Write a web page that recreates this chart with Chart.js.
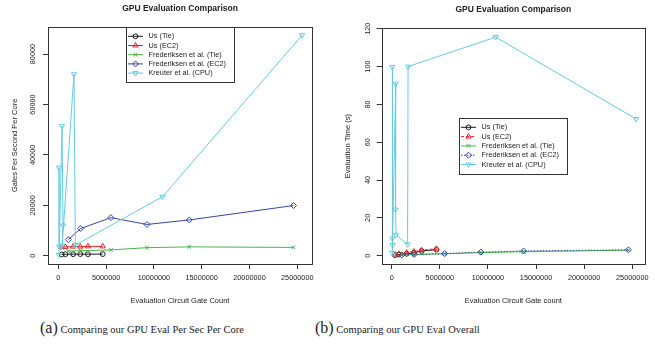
<!DOCTYPE html>
<html>
<head>
<meta charset="utf-8">
<script src="https://cdn.jsdelivr.net/npm/chart.js@4.4.1/dist/chart.umd.min.js"></script>
<style>
  body { margin: 0; background: #fff; }
  #wrap { position: relative; width: 655px; height: 348px; overflow: hidden; }
  .panel { position: absolute; top: 0; }
  .cap { position: absolute; top: 319px; font-family: "Liberation Serif", "Times New Roman", serif; font-size: 10.5px; color: #222; white-space: nowrap; }
  .cap span { font-size: 16px; }
</style>
</head>
<body>
<div id="wrap">
  <canvas id="rateChart" class="panel" style="left:0" width="330" height="305"></canvas>
  <canvas id="timeChart" class="panel" style="left:330px" width="325" height="305"></canvas>
  <div class="cap" style="left:40px"><span>(a)</span> Comparing our GPU Eval Per Sec Per Core</div>
  <div class="cap" style="left:315px"><span>(b)</span> Comparing our GPU Eval Overall</div>
</div>
<script>
// circuit sizes (gate counts)
const usGates = [350000, 750000, 1550000, 2300000, 3100000, 4650000];
const fredGates = [1050000, 2340000, 5500000, 9270000, 13700000, 24600000];
const kreuterRateGates = [50000, 70000, 100000, 390000, 490000, 400000, 1640000, 1780000, 10900000, 25500000];
const kreuterTimeGates = [40000, 60000, 70000, 100000, 420000, 400000, 450000, 1650000, 1700000, 10800000, 25400000];

// (a) gates per second per core
const usTieRate = [500, 600, 600, 650, 600, 650];
const usEc2Rate = [3300, 3500, 3600, 3600, 3700, 3700];
const fredTieRate = [1800, 2000, 2300, 3200, 3500, 3300];
const fredEc2Rate = [6400, 10800, 15100, 12400, 14200, 19900];
const kreuterRate = [300, 35000, 3600, 51500, 12000, 4000, 72000, 4200, 23400, 87500];

// (b) evaluation time in seconds
const usTieTime = [0.3, 0.6, 1.0, 1.5, 2.5, 3.2];
const usEc2Time = [0.6, 1.0, 1.6, 2.2, 2.9, 3.7];
const fredTieTime = [0.3, 0.6, 1.0, 1.6, 2.1, 2.9];
const fredEc2Time = [0.4, 0.7, 1.1, 1.9, 2.5, 3.1];
const kreuterTime = [1.5, 99.8, 9.1, 5.6, 91, 24.4, 10.9, 6, 100, 115.6, 72.3];

// axis ticks
const gateTicks = [0, 5000000, 10000000, 15000000, 20000000, 25000000];
const rateTicks = [0, 20000, 40000, 60000, 80000];
const timeTicks = [0, 20, 40, 60, 80, 100, 120];

const seriesNames = ["Us (Tie)", "Us (EC2)", "Frederiksen et al. (Tie)", "Frederiksen et al. (EC2)", "Kreuter et al. (CPU)"];
const seriesColors = ["#1a1a1a", "#e8242c", "#45b649", "#3446a0", "#67cbdf"];
const seriesMarkers = [
  { style: "circle", rot: 0, r: 2.4 },
  { style: "triangle", rot: 0, r: 3 },
  { style: "crossRot", rot: 0, r: 2.6 },
  { style: "rectRot", rot: 0, r: 3 },
  { style: "triangle", rot: 180, r: 3 }
];

const sans = "'Liberation Sans', Arial, Helvetica, sans-serif";
const ink = "#222";
const axisInk = "#333";

function pts(xs, ys) {
  return xs.map((x, i) => ({ x: x, y: ys[i] }));
}

function buildDatasets(series, dashes) {
  return series.map((data, i) => ({
    label: seriesNames[i],
    data: data,
    showLine: true,
    borderColor: seriesColors[i],
    backgroundColor: "rgba(0,0,0,0)",
    borderWidth: 1,
    borderDash: dashes[i],
    pointStyle: seriesMarkers[i].style,
    pointRotation: seriesMarkers[i].rot,
    pointRadius: seriesMarkers[i].r,
    pointBorderWidth: 1,
    pointBorderColor: seriesColors[i],
    pointBackgroundColor: "rgba(0,0,0,0)",
    order: 5 - i
  }));
}

// R style box around the plot region
const plotBox = {
  id: "plotBox",
  afterDatasetsDraw(chart) {
    const a = chart.chartArea, ctx = chart.ctx;
    ctx.save();
    ctx.strokeStyle = axisInk;
    ctx.lineWidth = 1;
    ctx.strokeRect(Math.round(a.left) + 0.5, Math.round(a.top) + 0.5, Math.round(a.right - a.left), Math.round(a.bottom - a.top));
    ctx.restore();
  }
};

// legend drawn inside the plot like R's legend()
const boxLegend = {
  id: "boxLegend",
  afterDraw(chart, args, opts) {
    const a = chart.chartArea, ctx = chart.ctx;
    const w = opts.width, h = opts.height;
    const left = Math.round((a.left + a.right) / 2 - w / 2);
    const top = Math.round(opts.place === "top" ? a.top : (a.top + a.bottom) / 2 - h / 2);
    ctx.save();
    ctx.fillStyle = "#fff";
    ctx.fillRect(left, top, w, h);
    ctx.strokeStyle = axisInk;
    ctx.lineWidth = 1;
    ctx.strokeRect(left + 0.5, top + 0.5, w, h);
    ctx.font = "7.3px " + sans;
    ctx.textBaseline = "middle";
    chart.data.datasets.forEach((ds, i) => {
      const y = top + opts.firstRow + i * opts.rowGap;
      ctx.strokeStyle = ds.borderColor;
      ctx.setLineDash(ds.borderDash || []);
      ctx.beginPath();
      ctx.moveTo(left + 2, y);
      ctx.lineTo(left + 17, y);
      ctx.stroke();
      ctx.setLineDash([]);
      ctx.fillStyle = "rgba(0,0,0,0)";
      Chart.helpers.drawPoint(ctx, { pointStyle: ds.pointStyle, radius: ds.pointRadius, rotation: ds.pointRotation, borderWidth: 1 }, left + 9.5, y);
      ctx.fillStyle = ink;
      ctx.fillText(ds.label, left + 22.5, y);
    });
    ctx.restore();
  }
};

function makeChart(id, cfg) {
  return new Chart(document.getElementById(id), {
    type: "scatter",
    data: { datasets: buildDatasets(cfg.series, cfg.dashes) },
    plugins: [plotBox, boxLegend],
    options: {
      responsive: false,
      animation: false,
      devicePixelRatio: 1,
      layout: { padding: { left: 0, right: cfg.rightPad, top: 0, bottom: 0 } },
      scales: {
        x: {
          type: "linear",
          min: cfg.xMin,
          max: cfg.xMax,
          afterBuildTicks: s => { s.ticks = gateTicks.map(v => ({ value: v })); },
          afterFit: s => { s.height = 41; },
          grid: { drawOnChartArea: false, drawTicks: true, tickLength: 5, color: axisInk },
          border: { display: false },
          ticks: { font: { family: sans, size: 7.3 }, color: ink, padding: 4.3, maxRotation: 0, autoSkip: false, callback: v => String(v) },
          title: { display: true, text: cfg.xTitle, font: { family: sans, size: 7.5 }, color: ink, padding: { top: 4.5, bottom: 0 } }
        },
        y: {
          type: "linear",
          min: cfg.yMin,
          max: cfg.yMax,
          afterBuildTicks: s => { s.ticks = cfg.yTicks.map(v => ({ value: v })); },
          afterFit: s => { s.width = cfg.yWidth; },
          grid: { drawOnChartArea: false, drawTicks: true, tickLength: 5, color: axisInk },
          border: { display: false },
          ticks: { font: { family: sans, size: 7.3 }, color: ink, padding: cfg.yTickPad, minRotation: 90, maxRotation: 90, crossAlign: "center", autoSkip: false, callback: v => String(v) },
          title: { display: true, text: cfg.yTitle, font: { family: sans, size: 7.5 }, color: ink, padding: { top: cfg.yTitlePad, bottom: 0 } }
        }
      },
      plugins: {
        legend: { display: false },
        tooltip: { enabled: false },
        title: {
          display: true,
          fullSize: false,
          text: "GPU Evaluation Comparison",
          font: { family: sans, size: 8.5, weight: "bold" },
          color: ink,
          padding: { top: cfg.titleTop, bottom: cfg.titleBottom }
        },
        boxLegend: cfg.legend
      }
    }
  });
}

makeChart("rateChart", {
  series: [pts(usGates, usTieRate), pts(usGates, usEc2Rate), pts(fredGates, fredTieRate), pts(fredGates, fredEc2Rate), pts(kreuterRateGates, kreuterRate)],
  dashes: [[], [], [], [], []],
  xMin: -1080000, xMax: 26540000,
  yMin: -3290, yMax: 90870, yTicks: rateTicks,
  yWidth: 48, rightPad: 18, yTickPad: 0, yTitlePad: 10.5,
  titleTop: 4, titleBottom: 12.5,
  xTitle: "Evaluation Circuit Gate Count",
  yTitle: "Gates Per Second Per Core",
  legend: { place: "top", width: 108, height: 55, firstRow: 9.3, rowGap: 9.2 }
});

makeChart("timeChart", {
  series: [pts(usGates, usTieTime), pts(usGates, usEc2Time), pts(fredGates, fredTieTime), pts(fredGates, fredEc2Time), pts(kreuterTimeGates, kreuterTime)],
  dashes: [[], [3, 2], [], [1.5, 1.5], []],
  xMin: -1040000, xMax: 26320000,
  yMin: -4.4, yMax: 120.2, yTicks: timeTicks,
  yWidth: 51.7, rightPad: 10, yTickPad: 2.6, yTitlePad: 13.5,
  titleTop: 4.2, titleBottom: 14,
  xTitle: "Evaluation Circuit Gate count",
  yTitle: "Evaluation Time (s)",
  legend: { place: "center", width: 108, height: 56, firstRow: 9.3, rowGap: 9.3 }
});
</script>
</body>
</html>
